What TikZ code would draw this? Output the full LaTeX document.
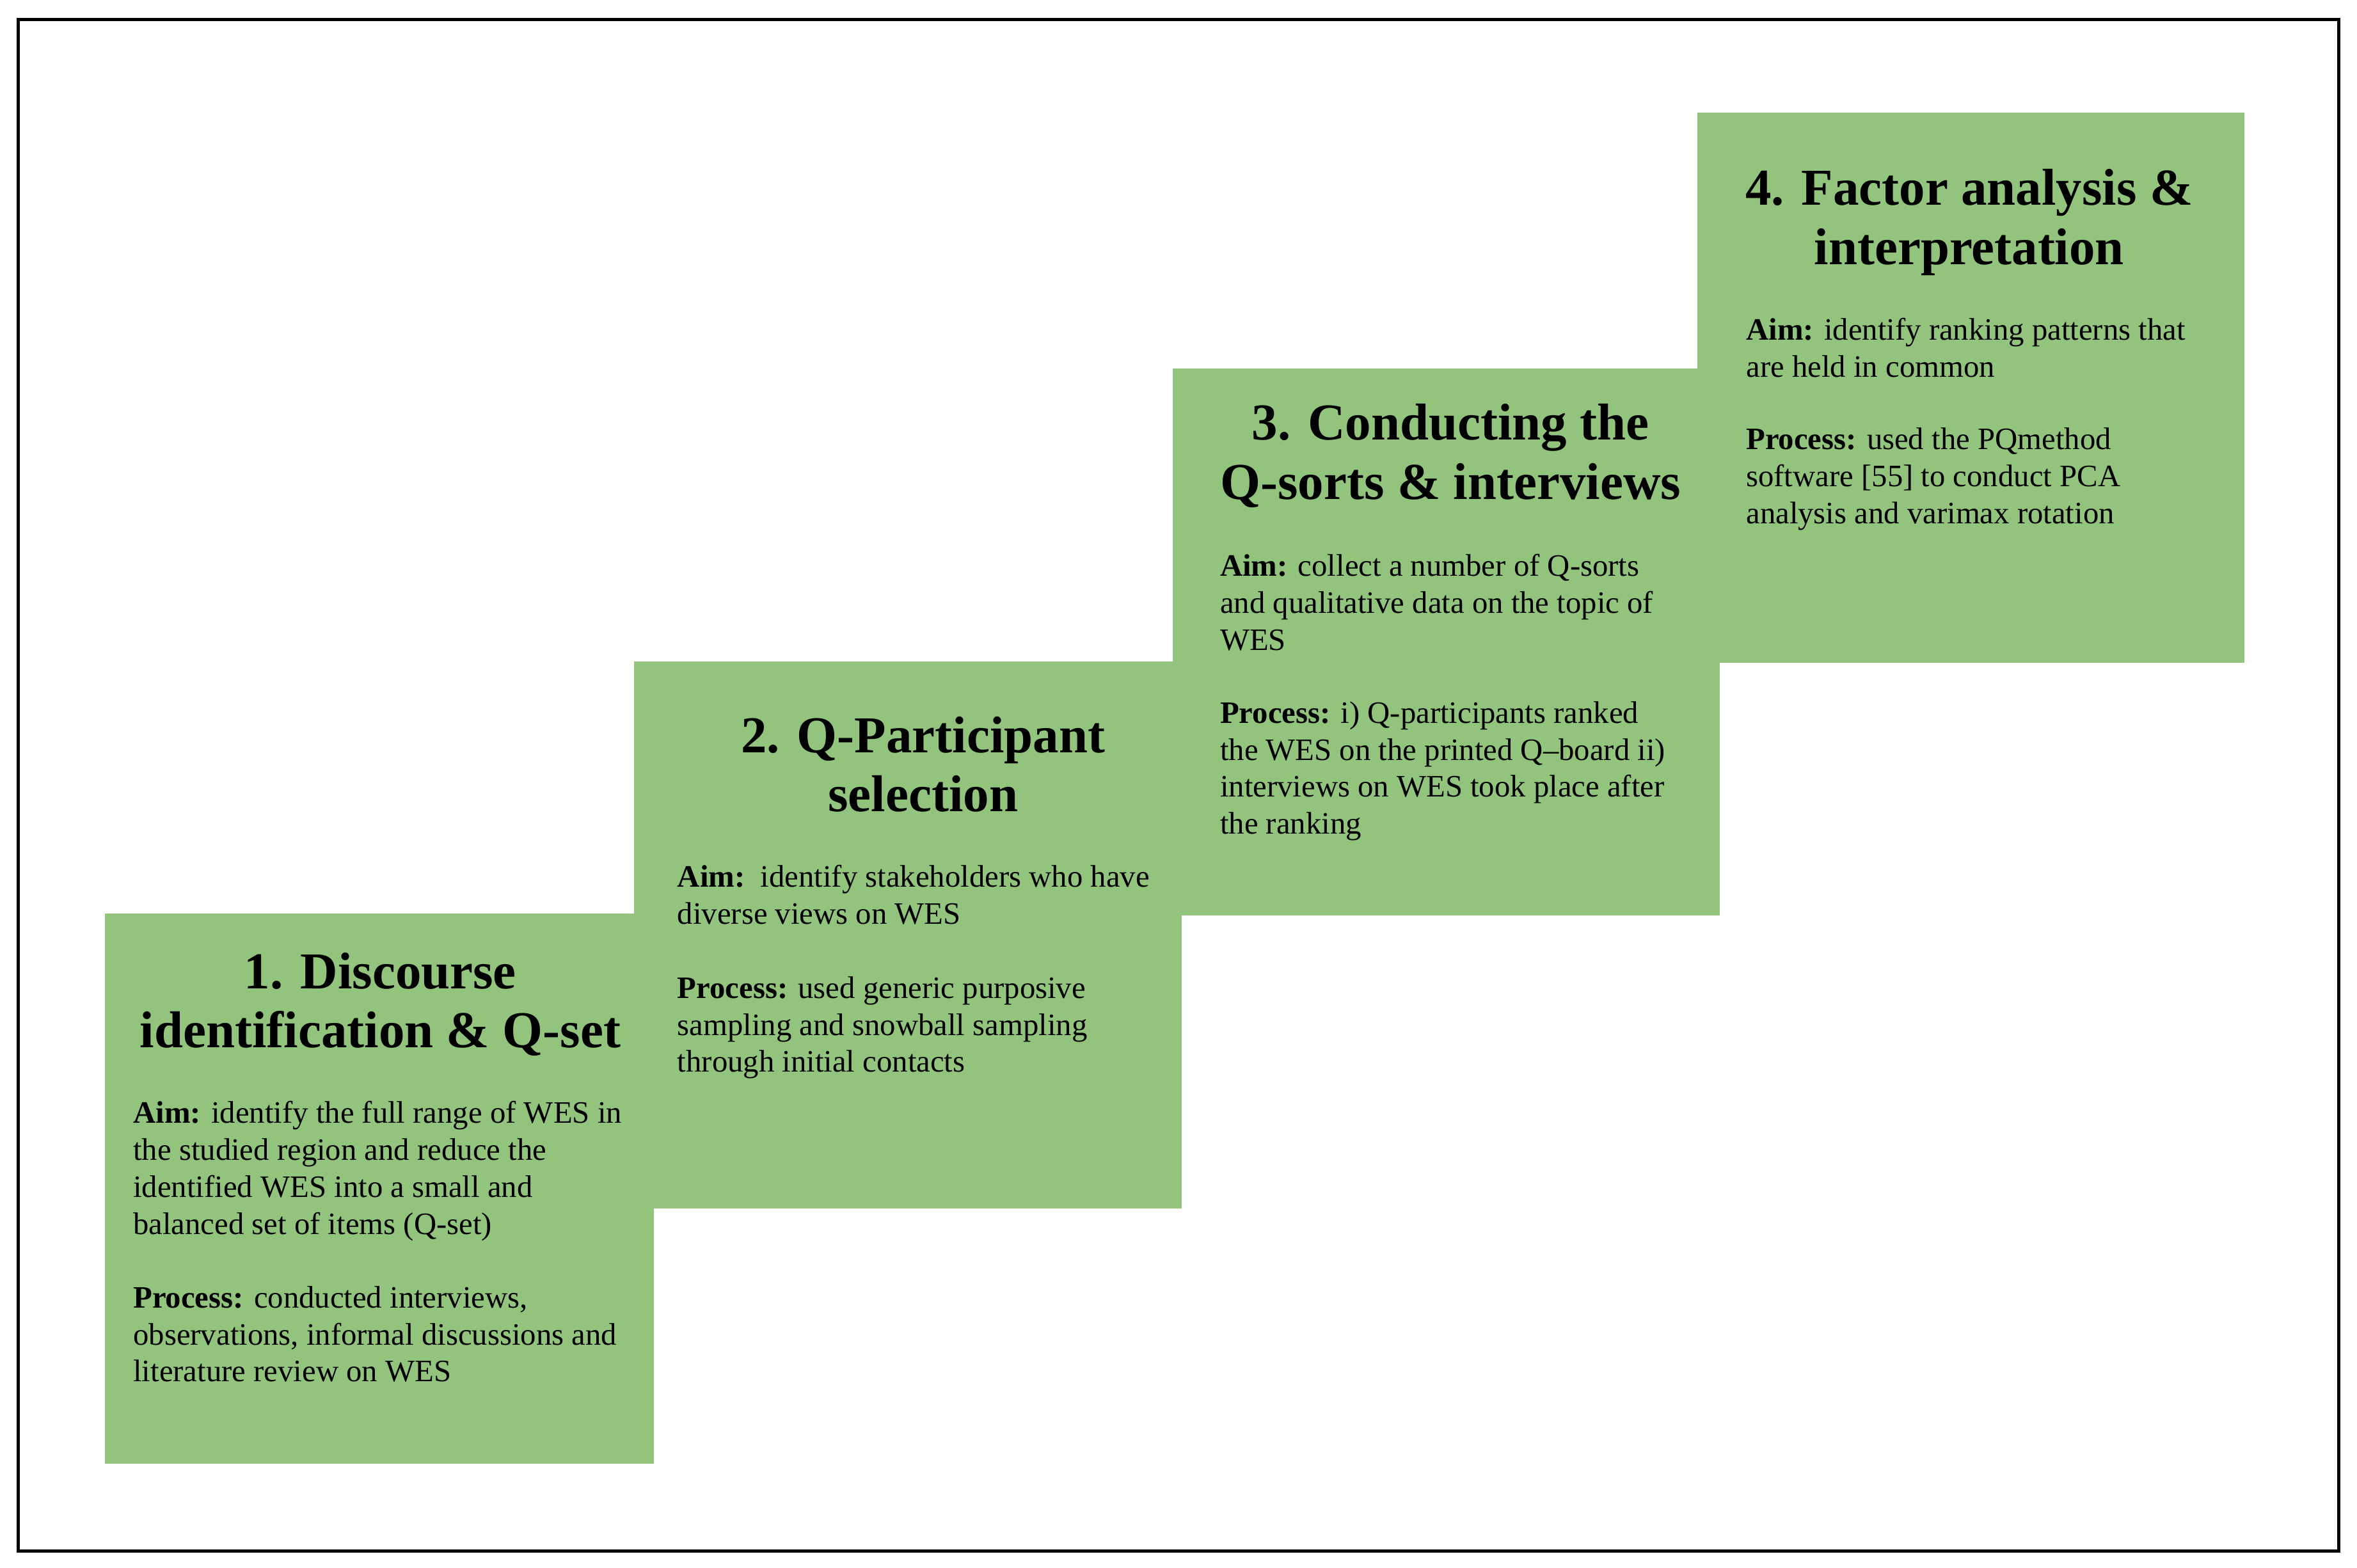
\documentclass[tikz,border=0pt]{standalone}
\usepackage{fontspec}
\setmainfont{Liberation Serif}
\definecolor{stepgreen}{HTML}{93C47D}
\begin{document}
\begin{tikzpicture}[x=0.01cm,y=-0.01cm,
  stepbox/.style={fill=stepgreen,draw=none},
  ttl/.style={align=center,inner sep=0pt,font=\fontsize{9.8}{11.2}\selectfont\bfseries,anchor=north},
  body/.style={align=left,inner sep=0pt,font=\fontsize{5.9}{7}\selectfont,anchor=north west}]
\useasboundingbox (0,0) rectangle (1568,1043);
\draw[line width=0.6pt] (12,13) rectangle (1556,1032);
\fill[stepgreen] (70,608) rectangle (435,974);
\fill[stepgreen] (422,440) rectangle (786,804);
\fill[stepgreen] (780,245) rectangle (1144,609);
\fill[stepgreen] (1129,75) rectangle (1493,441);
% box 1
\node[ttl] (t1) at (253,633) {1. Discourse\\identification \& Q-set};
\node[body] (a1) at (88,732) {\textbf{Aim:} identify the full range of WES in\\the studied region and reduce the\\identified WES into a small and\\balanced set of items (Q-set)};
\node[body] (p1) at (88,855) {\textbf{Process:} conducted interviews,\\observations, informal discussions and\\literature review on WES};
% box 2
\node[ttl] (t2) at (614,476) {2. Q-Participant\\selection};
\node[body] (a2) at (450,575) {\textbf{Aim:}\ \ identify stakeholders who have\\diverse views on WES};
\node[body] (p2) at (450,649) {\textbf{Process:} used generic purposive\\sampling and snowball sampling\\through initial contacts};
% box 3
\node[ttl] (t3) at (965,268) {3. Conducting the\\Q-sorts \& interviews};
\node[body] (a3) at (811,368) {\textbf{Aim:} collect a number of Q-sorts\\and qualitative data on the topic of\\WES};
\node[body] (p3) at (811,466) {\textbf{Process:} i) Q-participants ranked\\the WES on the printed Q--board ii)\\interviews on WES took place after\\the ranking};
% box 4
\node[ttl] (t4) at (1310,112) {4. Factor analysis \&\\interpretation};
\node[body] (a4) at (1161,211) {\textbf{Aim:} identify ranking patterns that\\are held in common};
\node[body] (p4) at (1161,284) {\textbf{Process:} used the PQmethod\\software [55] to conduct PCA\\analysis and varimax rotation};
\end{tikzpicture}
\end{document}
